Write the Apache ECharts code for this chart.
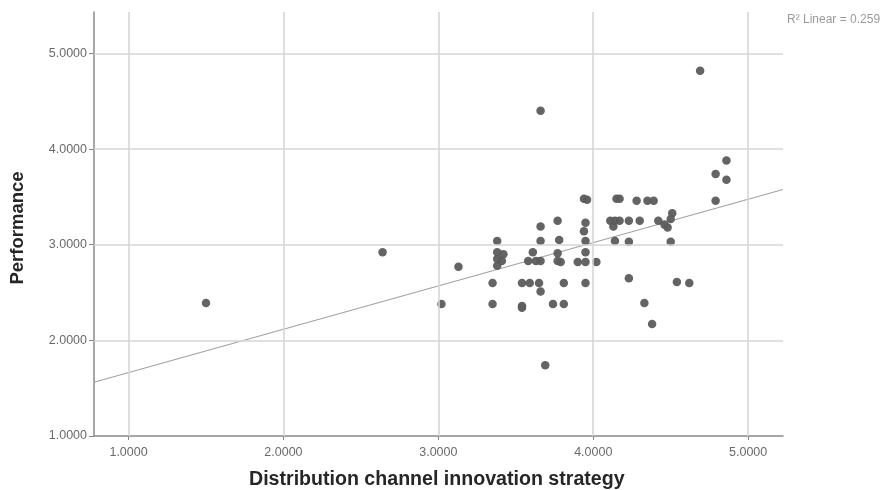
<!DOCTYPE html>
<html>
<head>
<meta charset="utf-8">
<script src="https://cdn.jsdelivr.net/npm/echarts@6/dist/echarts.min.js"></script>
<style>
  html, body { margin: 0; padding: 0; background: #ffffff; }
  #chart { width: 888px; height: 490px; }
</style>
</head>
<body>
<div id="chart"></div>
<script>
// Distribution channel innovation strategy (x) against Performance (y)
const strategy = [
  1.50, 2.64, 3.02, 3.13, 3.66, 4.69, 4.86, 4.79, 4.86, 4.79,
  3.94, 3.96, 4.15, 4.17, 4.28, 4.35, 4.39,
  3.77, 3.66, 3.95, 3.94, 4.11, 4.14, 4.17, 4.13, 4.23, 4.30, 4.42,
  4.46, 4.48, 4.50, 4.51,
  3.38, 3.66, 3.78, 3.95, 4.14, 4.23, 4.50,
  3.38, 3.42, 3.38, 3.41, 3.38, 3.61, 3.58, 3.63, 3.66, 3.77,
  3.77, 3.79, 3.95, 3.90, 3.95, 4.02,
  3.35, 3.54, 3.59, 3.65, 3.66, 3.81, 3.95,
  3.35, 3.54, 3.54, 3.74, 3.81, 3.69,
  4.23, 4.54, 4.62, 4.33, 4.38
];
const performance = [
  2.39, 2.92, 2.38, 2.77, 4.40, 4.82, 3.88, 3.74, 3.68, 3.46,
  3.48, 3.47, 3.48, 3.48, 3.46, 3.46, 3.46,
  3.25, 3.19, 3.23, 3.14, 3.25, 3.25, 3.25, 3.19, 3.25, 3.25, 3.25,
  3.21, 3.18, 3.27, 3.33,
  3.04, 3.04, 3.05, 3.04, 3.04, 3.03, 3.03,
  2.92, 2.90, 2.85, 2.83, 2.78, 2.92, 2.83, 2.83, 2.83, 2.91,
  2.83, 2.82, 2.92, 2.82, 2.82, 2.82,
  2.60, 2.60, 2.60, 2.60, 2.51, 2.60, 2.60,
  2.38, 2.36, 2.34, 2.38, 2.38, 1.74,
  2.65, 2.61, 2.60, 2.39, 2.17
];

// Tick values on both axes
const xTicks = [1, 2, 3, 4, 5];
const yTicks = [1, 2, 3, 4, 5];
const yGrid = [2, 3, 4, 5];

// Linear fit (Performance = intercept + slope * strategy)
const fitIntercept = 1.21;
const fitSlope = 0.453;
const rSquared = 0.259;

// Visible axis ranges
const xRange = [0.777, 5.225];
const yRange = [1.0, 5.433];

const points = strategy.map((x, i) => [x, performance[i]]);
const fitLine = xRange.map(x => [x, fitIntercept + fitSlope * x]);

const gridColor = '#d6d6d6';
const axisColor = '#8a8a8a';
const labelColor = '#6a6a6a';
const fontFamily = 'Liberation Sans, Arial, sans-serif';

const chart = echarts.init(document.getElementById('chart'), null, { renderer: 'canvas' });

chart.setOption({
  animation: false,
  backgroundColor: '#ffffff',
  grid: { left: 94, top: 12, right: 105, bottom: 54, containLabel: false },
  xAxis: {
    type: 'value',
    min: xRange[0],
    max: xRange[1],
    splitLine: { show: false },
    axisLine: { show: true, onZero: false, lineStyle: { color: axisColor, width: 1.5 } },
    axisTick: { show: true, customValues: xTicks, length: 4, lineStyle: { color: axisColor } },
    axisLabel: {
      customValues: xTicks,
      formatter: v => v.toFixed(4),
      color: labelColor, fontSize: 12.5, fontFamily: fontFamily, margin: 10
    }
  },
  yAxis: {
    type: 'value',
    min: yRange[0],
    max: yRange[1],
    splitLine: { show: false },
    axisLine: { show: true, onZero: false, lineStyle: { color: axisColor, width: 1.5 } },
    axisTick: { show: true, customValues: yTicks, length: 5, lineStyle: { color: axisColor } },
    axisLabel: {
      customValues: yTicks,
      formatter: v => v.toFixed(4),
      color: labelColor, fontSize: 12.5, fontFamily: fontFamily, margin: 7
    }
  },
  series: [
    {
      name: 'Fit',
      type: 'line',
      data: fitLine,
      symbol: 'none',
      z: 2,
      lineStyle: { color: '#a3a3a3', width: 1.2 },
      markLine: {
        silent: true,
        symbol: 'none',
        label: { show: false },
        lineStyle: { color: gridColor, width: 1.6, type: 'solid' },
        data: xTicks.map(v => ({ xAxis: v })).concat(yGrid.map(v => ({ yAxis: v })))
      }
    },
    {
      name: 'Observed',
      type: 'scatter',
      data: points,
      symbol: 'circle',
      symbolSize: 8.5,
      z: 3,
      itemStyle: { color: '#5c5c5c', opacity: 0.95 }
    }
  ],
  graphic: [
    {
      type: 'text',
      left: 249, top: 470,
      style: {
        text: 'Distribution channel innovation strategy',
        font: 'bold 19.6px ' + fontFamily,
        fill: '#262626'
      }
    },
    {
      type: 'text',
      x: 18, y: 228,
      rotation: Math.PI / 2,
      style: {
        text: 'Performance',
        font: 'bold 18.5px ' + fontFamily,
        fill: '#262626',
        align: 'center',
        verticalAlign: 'middle'
      }
    },
    {
      type: 'text',
      x: 787, y: 20,
      style: {
        text: 'R\u00b2 Linear = ' + rSquared.toFixed(3),
        font: '12px ' + fontFamily,
        fill: '#9a9a9a',
        verticalAlign: 'middle'
      }
    }
  ]
});
</script>
</body>
</html>
